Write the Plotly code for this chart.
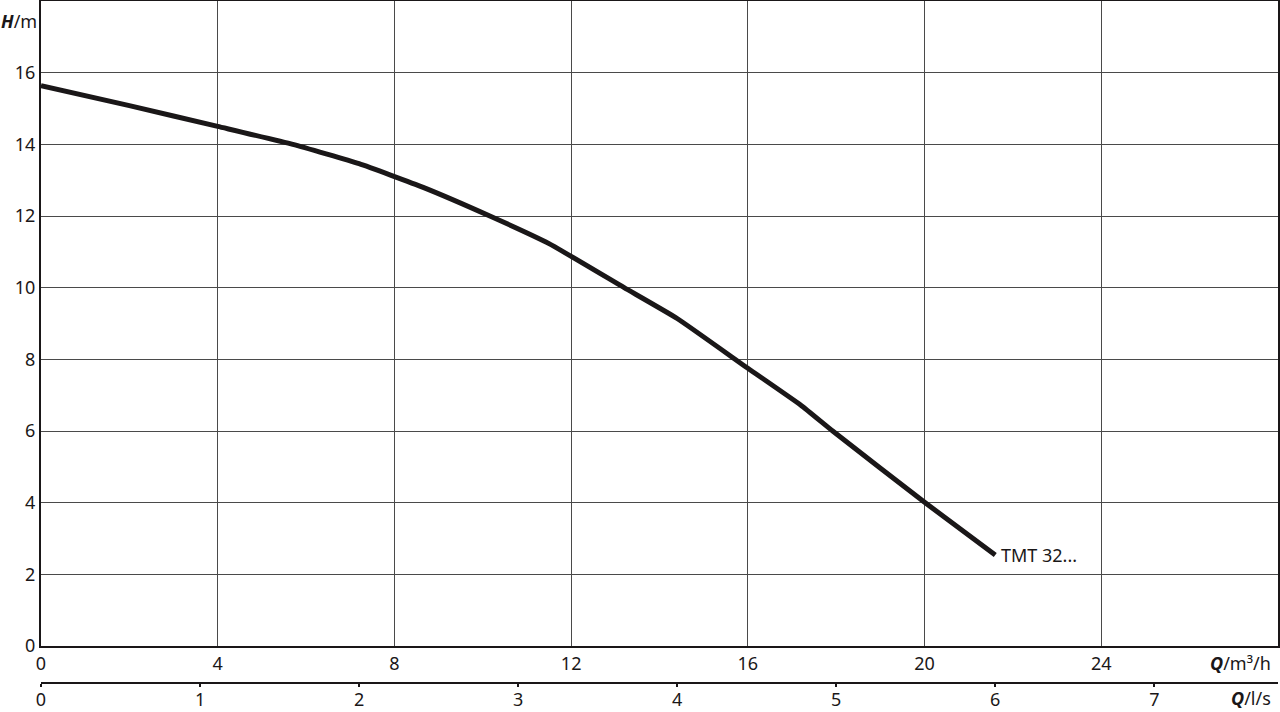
import plotly.graph_objects as go

# Data
q_m3h = [0, 2, 4, 5.7, 7.2, 8.65, 10.16, 11.5, 13.2, 14.4, 16.0, 17.2, 17.92, 20.0, 21.6]
head_m = [15.64, 15.08, 14.5, 14.0, 13.46, 12.8, 12.0, 11.23, 10.0, 9.14, 7.75, 6.72, 6.0, 4.01, 2.54]
curve_label = "TMT 32..."

x_ticks_m3h = [0, 4, 8, 12, 16, 20, 24]
x_ticks_ls = [0, 1, 2, 3, 4, 5, 6, 7]
y_ticks = [0, 2, 4, 6, 8, 10, 12, 14, 16]
x_max = 28
y_max = 18

FONT = "Noto Sans"
fs = 18
grid = "#4a4a4a"

# paper spans y=1..712 px (height 711)
y_dom0 = (712 - 646) / 711
x2_pos = (712 - 683) / 711

fig = go.Figure()
fig.add_trace(go.Scatter(x=q_m3h, y=head_m, mode="lines",
                         line=dict(color="#1a1718", width=5, shape="spline", smoothing=0.4),
                         hoverinfo="skip", showlegend=False))
fig.add_trace(go.Scatter(x=[v / 3.6 for v in q_m3h], y=head_m, mode="markers",
                         marker=dict(opacity=0), xaxis="x2", hoverinfo="skip",
                         showlegend=False))

fig.add_annotation(x=q_m3h[-1], y=head_m[-1], text=curve_label, showarrow=False,
                   xanchor="left", yanchor="middle", xshift=4,
                   font=dict(family=FONT, size=fs, color="#1a1718"))

fig.add_annotation(xref="paper", yref="paper", x=-0.002, y=1, yshift=-20,
                   text="<b><i>H</i></b>/m", showarrow=False, xanchor="right",
                   yanchor="middle", font=dict(family=FONT, size=fs, color="#1a1718"))
fig.add_annotation(xref="paper", yref="y", x=0.996, y=0, yshift=-17,
                   text="<b><i>Q</i></b>/m³/h", showarrow=False, xanchor="right",
                   yanchor="middle", font=dict(family=FONT, size=fs, color="#1a1718"))
fig.add_annotation(xref="paper", yref="paper", x=0.996, y=x2_pos, yshift=-15,
                   text="<b><i>Q</i></b>/l/s", showarrow=False, xanchor="right",
                   yanchor="middle", font=dict(family=FONT, size=fs, color="#1a1718"))

fig.update_layout(
    width=1280, height=712,
    margin=dict(l=41, r=2, t=1, b=0, autoexpand=False),
    paper_bgcolor="white", plot_bgcolor="white",
    font=dict(family=FONT, size=fs, color="#1a1718"),
    xaxis=dict(range=[0, x_max], tickvals=x_ticks_m3h, showgrid=True,
               gridcolor=grid, gridwidth=1, showline=True, linecolor="#1a1718",
               linewidth=2, mirror=True, ticks="", zeroline=False, automargin=False,
               tickfont=dict(family=FONT, size=fs)),
    yaxis=dict(range=[0, y_max], tickvals=y_ticks, domain=[y_dom0, 1],
               showgrid=True, gridcolor=grid, gridwidth=1, showline=True,
               linecolor="#1a1718", linewidth=2, mirror=True, ticks="",
               zeroline=False, automargin=False, tickfont=dict(family=FONT, size=fs)),
    xaxis2=dict(range=[0, x_max / 3.6], tickvals=x_ticks_ls, overlaying="x",
                anchor="free", position=x2_pos, side="bottom", showgrid=False,
                showline=True, linecolor="#1a1718", linewidth=2, ticks="outside",
                ticklen=3, tickwidth=2, tickcolor="#1a1718", zeroline=False,
                ticklabelstandoff=-3, automargin=False,
                tickfont=dict(family=FONT, size=fs)),
)

fig.write_html("out.html", config={"displayModeBar": False},
               post_script="document.body.style.margin='0';document.body.style.overflow='hidden';")
